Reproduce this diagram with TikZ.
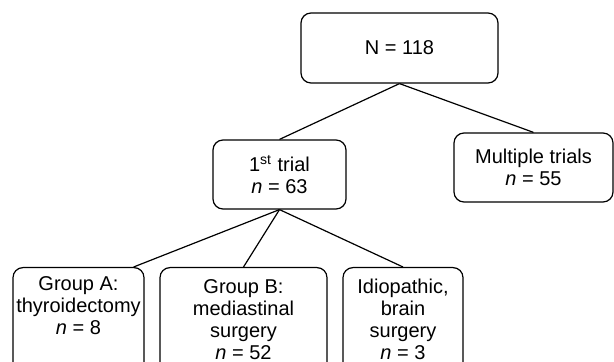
\documentclass[tikz,border=0pt]{standalone}
\usepackage{fontspec}
\setmainfont{Liberation Sans}
\usetikzlibrary{calc}

\begin{document}
\begin{tikzpicture}[x=0.5pt, y=-0.5pt,
    box/.style={draw, rounded corners=5pt, line width=0.6pt, align=center,
        inner sep=0pt, font=\fontsize{10}{11}\selectfont},
    link/.style={line width=0.6pt}]

% ---- Frame ----
\useasboundingbox (0,0) rectangle (614,362);

% ---- Boxes ----
\node[box, minimum width=98.5pt, minimum height=35pt] (total) at (399.5,48) {N = 118};
\node[box, minimum width=66.5pt, minimum height=34.5pt] (first) at (279.5,174.5)
    {1\textsuperscript{st} trial\\ \textit{n} = 63};
\node[box, minimum width=79.5pt, minimum height=34.5pt] (multi) at (533.5,167.5)
    {Multiple trials\\ \textit{n} = 55};

% bottom row, cut off by the frame
\node[box, anchor=north, minimum width=65.5pt, minimum height=52pt] (grpA) at (78.5,267)
    {Group A:\\ thyroidectomy\\ \textit{n} = 8\\ \strut};
\node[box, anchor=north, minimum width=83.5pt, minimum height=52pt] (grpB) at (243.5,267)
    {Group B:\\ mediastinal\\ surgery\\ \textit{n} = 52};
\node[box, anchor=north, minimum width=60pt, minimum height=52pt] (idio) at (403,267)
    {Idiopathic,\\ brain\\ surgery\\ \textit{n} = 3};

% ---- Links ----
\draw[link] (total.south) -- (first.north);
\draw[link] (total.south) -- (multi.north);
\draw[link] (first.south) -- ($(grpA.north east)+(-11,0)$);
\draw[link] (first.south) -- (grpB.north);
\draw[link] (first.south) -- (idio.north);

\end{tikzpicture}
\end{document}
